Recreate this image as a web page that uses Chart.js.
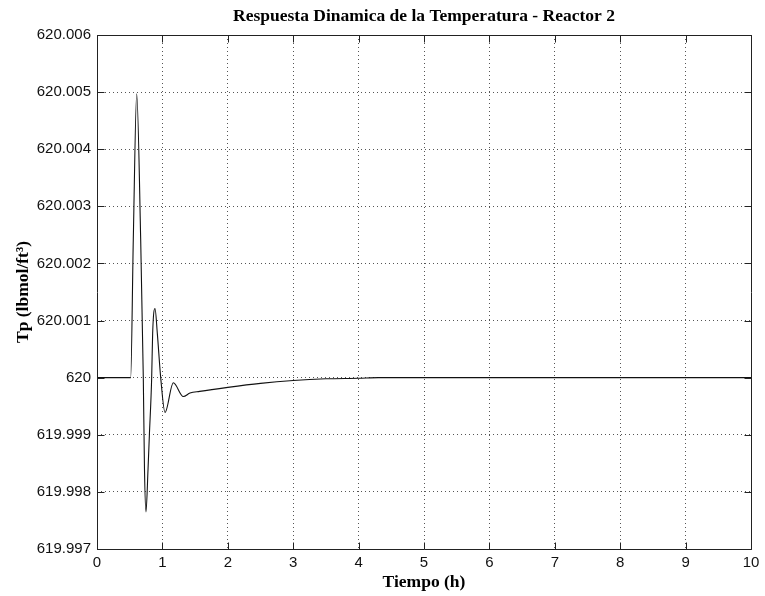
<!DOCTYPE html>
<html>
<head>
<meta charset="utf-8">
<script src="https://cdn.jsdelivr.net/npm/chart.js@4/dist/chart.umd.min.js"></script>
<style>
  html, body { margin: 0; padding: 0; background: #fff; }
  #c { display: block; }
</style>
</head>
<body>
<canvas id="c" width="765" height="596"></canvas>
<script>
// Tiempo (h) and reactor temperature response
const tiempo = [0, 0.515, 0.555, 0.607, 0.668, 0.708, 0.726, 0.749, 0.780, 0.800, 0.836,
  0.851, 0.887, 0.922, 0.974, 1.040, 1.167, 1.320, 1.422, 1.57, 2.0, 2.5, 3.0, 3.5, 4.0, 4.3, 10];
const temperatura = [620, 620, 620.00242, 620.00497, 620.00242, 620.0, 619.9984, 619.99765, 619.99839, 619.99897, 620.0,
  620.00078, 620.00121, 620.00078, 620.0, 619.99939, 619.99991, 619.99967, 619.99973, 619.99976, 619.99983, 619.9999, 619.99995, 619.99998, 619.99999, 620, 620];

const xTicks = [0, 1, 2, 3, 4, 5, 6, 7, 8, 9, 10];
const yTicks = [619.997, 619.998, 619.999, 620, 620.001, 620.002, 620.003, 620.004, 620.005, 620.006];

const tituloGrafico = 'Respuesta Dinamica de la Temperatura - Reactor 2';
const tituloX = 'Tiempo (h)';
const tituloY = 'Tp (lbmol/ft\u00B3)';

const serif = '"Liberation Serif", "Times New Roman", serif';
const sans = '"Liberation Sans", Arial, sans-serif';

// Solid frame with inward tick marks on all four sides
const marco = {
  id: 'marco',
  afterDraw(chart) {
    const { ctx, chartArea: a, scales: { x, y } } = chart;
    const len = 7;
    ctx.save();
    ctx.strokeStyle = '#222';
    ctx.lineWidth = 1;
    ctx.beginPath();
    const L = Math.round(a.left) + 0.5, R = Math.round(a.right) + 0.5;
    const T = Math.round(a.top) + 0.5, B = Math.round(a.bottom) + 0.5;
    ctx.rect(L, T, R - L, B - T);
    xTicks.forEach(v => {
      const px = Math.round(x.getPixelForValue(v)) + 0.5;
      ctx.moveTo(px, B); ctx.lineTo(px, B - len);
      ctx.moveTo(px, T); ctx.lineTo(px, T + len);
    });
    yTicks.forEach(v => {
      const py = Math.round(y.getPixelForValue(v)) + 0.5;
      ctx.moveTo(L, py); ctx.lineTo(L + len, py);
      ctx.moveTo(R, py); ctx.lineTo(R - len, py);
    });
    ctx.stroke();
    ctx.restore();
  }
};

new Chart(document.getElementById('c'), {
  type: 'line',
  data: {
    datasets: [{
      data: tiempo.map((t, i) => ({ x: t, y: temperatura[i] })),
      borderColor: '#111',
      borderWidth: 1.1,
      pointRadius: 0,
      fill: false,
      cubicInterpolationMode: 'monotone'
    }]
  },
  options: {
    responsive: false,
    animation: false,
    devicePixelRatio: 1,
    layout: { padding: { left: 0, right: 14, top: 0, bottom: 0 } },
    plugins: {
      legend: { display: false },
      tooltip: { enabled: false },
      title: {
        display: true,
        text: tituloGrafico,
        color: '#000',
        fullSize: false,
        font: { family: serif, size: 17.5, weight: 'bold', lineHeight: 1.2 },
        padding: { top: 6, bottom: 8 }
      }
    },
    scales: {
      x: {
        type: 'linear',
        min: 0, max: 10,
        afterFit: s => { s.height = 47; },
        afterBuildTicks: s => { s.ticks = xTicks.map(v => ({ value: v })); },
        ticks: {
          color: '#111',
          font: { family: sans, size: 15 },
          padding: 5,
          maxRotation: 0,
          autoSkip: false,
          callback: v => String(v)
        },
        grid: { color: '#555', lineWidth: 1, drawTicks: false },
        border: { display: false, dash: [1, 3] },
        title: {
          display: true,
          text: tituloX,
          color: '#000',
          font: { family: serif, size: 17.5, weight: 'bold', lineHeight: 1 },
          padding: { top: 0, bottom: 4.5 }
        }
      },
      y: {
        type: 'linear',
        min: 619.997, max: 620.006,
        afterFit: s => { s.width = 97; },
        afterBuildTicks: s => { s.ticks = yTicks.map(v => ({ value: v })); },
        ticks: {
          color: '#111',
          font: { family: sans, size: 15 },
          padding: 6,
          autoSkip: false,
          callback: v => String(Number(v.toFixed(3)))
        },
        grid: { color: '#555', lineWidth: 1, drawTicks: false },
        border: { display: false, dash: [1, 3] },
        title: {
          display: true,
          text: tituloY,
          color: '#000',
          font: { family: serif, size: 17.5, weight: 'bold', lineHeight: 1 },
          padding: { top: 15, bottom: 0 }
        }
      }
    }
  },
  plugins: [marco]
});
</script>
</body>
</html>
